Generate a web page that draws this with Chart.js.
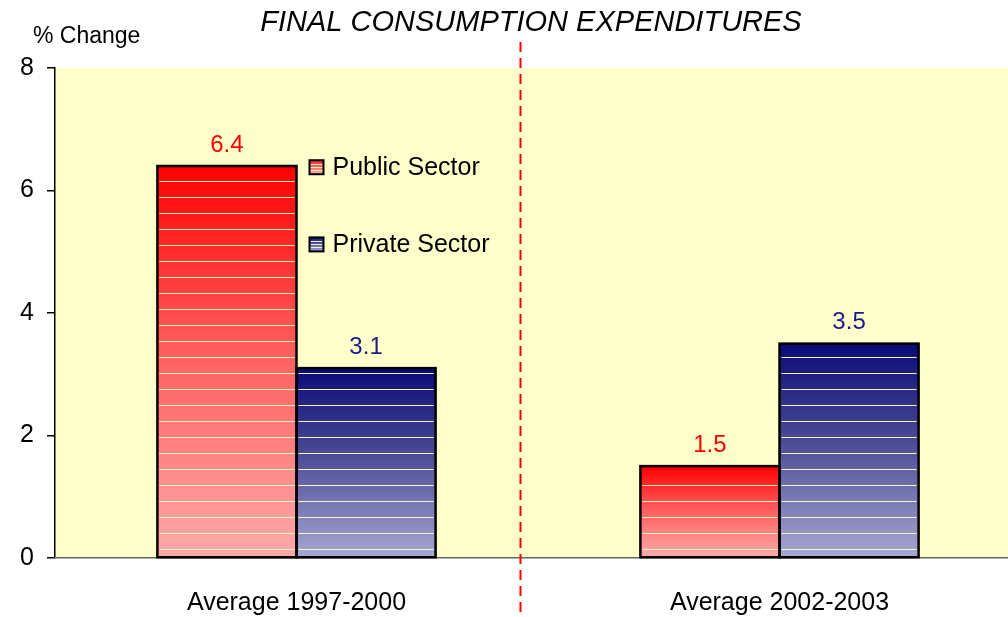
<!DOCTYPE html>
<html>
<head>
<meta charset="utf-8">
<script src="https://cdn.jsdelivr.net/npm/chart.js@4/dist/chart.umd.min.js"></script>
<style>
  html, body { margin: 0; padding: 0; background: #fff; overflow: hidden; }
  #wrap { position: relative; width: 1030px; height: 617px; }
</style>
</head>
<body>
<div id="wrap"><canvas id="expChart"></canvas></div>
<script>
const categories = ['Average 1997-2000', 'Average 2002-2003'];
const publicSector = [6.4, 1.5];
const privateSector = [3.1, 3.5];
const yTicks = [0, 2, 4, 6, 8];

const FONT = "'Liberation Sans', Arial, sans-serif";

function barGradient(ctx, top, mid, bottom) {
  return function (context) {
    const chart = context.chart;
    const area = chart.chartArea;
    if (!area || context.type !== 'data') return top;
    const yScale = chart.scales.y;
    const y0 = yScale.getPixelForValue(context.raw);
    const y1 = yScale.getPixelForValue(0);
    const g = chart.ctx.createLinearGradient(0, y0, 0, y1);
    g.addColorStop(0, top);
    g.addColorStop(0.45, mid);
    g.addColorStop(1, bottom);
    return g;
  };
}

const plotBg = {
  id: 'plotBg',
  beforeDraw(chart) {
    const { ctx, chartArea: a } = chart;
    ctx.save();
    ctx.fillStyle = '#ffffcc';
    ctx.fillRect(a.left, a.top, a.right - a.left, a.bottom - a.top);
    ctx.restore();
  }
};

const extras = {
  id: 'extras',
  afterDatasetsDraw(chart) {
    const { ctx } = chart;
    ctx.save();
    // pale stripes across the bars
    chart.data.datasets.forEach((ds, i) => {
      chart.getDatasetMeta(i).data.forEach(bar => {
        const left = bar.x - bar.width / 2 + 2;
        const right = bar.x + bar.width / 2 - 2;
        ctx.strokeStyle = 'rgba(255,255,200,0.95)';
        ctx.lineWidth = 1.2;
        for (let y = bar.base - 8; y > bar.y + 4; y -= 16) {
          ctx.beginPath();
          ctx.moveTo(left, Math.round(y) + 0.5);
          ctx.lineTo(right, Math.round(y) + 0.5);
          ctx.stroke();
        }
        ctx.strokeStyle = '#000';
        ctx.lineWidth = 2.5;
        ctx.strokeRect(bar.x - bar.width / 2, bar.y, bar.width, bar.base - bar.y);
      });
    });
    // value labels
    ctx.font = '24px ' + FONT;
    ctx.textAlign = 'center';
    ctx.textBaseline = 'bottom';
    chart.data.datasets.forEach((ds, i) => {
      ctx.fillStyle = ds.labelColor;
      chart.getDatasetMeta(i).data.forEach((bar, j) => {
        ctx.fillText(ds.data[j].toFixed(1), bar.x, bar.y - 9);
      });
    });
    // legend inside plot
    const xs = chart.scales.x;
    const ys = chart.scales.y;
    const lx = xs.getPixelForValue(0) + 13;
    const legendY = [ys.getPixelForValue(6.38), ys.getPixelForValue(5.12)];
    ctx.font = '25px ' + FONT;
    chart.data.datasets.forEach((ds, i) => {
      const cy = legendY[i];
      const g = ctx.createLinearGradient(0, cy - 7, 0, cy + 7);
      g.addColorStop(0, ds.gradTop);
      g.addColorStop(1, ds.gradBottom);
      ctx.fillStyle = g;
      ctx.fillRect(lx, cy - 7, 14, 14);
      ctx.strokeStyle = 'rgba(255,255,200,0.9)';
      ctx.lineWidth = 1;
      for (let k = -3; k <= 5; k += 3) {
        ctx.beginPath();
        ctx.moveTo(lx + 1, Math.round(cy + k) + 0.5);
        ctx.lineTo(lx + 13, Math.round(cy + k) + 0.5);
        ctx.stroke();
      }
      ctx.strokeStyle = '#000';
      ctx.lineWidth = 2;
      ctx.strokeRect(lx, cy - 7, 14, 14);
      ctx.fillStyle = '#000';
      ctx.textAlign = 'left';
      ctx.textBaseline = 'middle';
      ctx.fillText(ds.label, lx + 23, cy + 1);
    });
    ctx.restore();
  },
  afterDraw(chart) {
    const { ctx } = chart;
    const xs = chart.scales.x;
    const p0 = xs.getPixelForValue(0);
    const p1 = xs.getPixelForValue(1);
    const dx = p0 + (p1 - p0) * 0.463;
    ctx.save();
    // dashed divider
    ctx.strokeStyle = '#ff0000';
    ctx.lineWidth = 2;
    ctx.setLineDash([10, 6]);
    ctx.beginPath();
    ctx.moveTo(Math.round(dx) + 0.5, 42);
    ctx.lineTo(Math.round(dx) + 0.5, chart.height);
    ctx.stroke();
    ctx.setLineDash([]);
    // title and unit
    ctx.fillStyle = '#000';
    ctx.textBaseline = 'middle';
    ctx.textAlign = 'center';
    ctx.font = 'italic 29px ' + FONT;
    ctx.fillText('FINAL CONSUMPTION EXPENDITURES', 531, 23);
    ctx.textAlign = 'left';
    ctx.font = '23px ' + FONT;
    ctx.fillText('% Change', 33, 37);
    ctx.restore();
  }
};

const ctx = document.getElementById('expChart').getContext('2d');
const chart = new Chart(ctx, {
  type: 'bar',
  data: {
    labels: categories,
    datasets: [
      {
        label: 'Public Sector',
        data: publicSector,
        backgroundColor: barGradient(ctx, '#ff0000', '#ff5a5a', '#ffaaaa'),
        gradTop: '#ff2020',
        gradBottom: '#ffb0b0',
        labelColor: '#ff0000',
        borderWidth: 0
      },
      {
        label: 'Private Sector',
        data: privateSector,
        backgroundColor: barGradient(ctx, '#0a0a78', '#4a4a94', '#a8a8d4'),
        gradTop: '#10107a',
        gradBottom: '#aaaad6',
        labelColor: '#1a1a8c',
        borderWidth: 0
      }
    ]
  },
  options: {
    responsive: true,
    maintainAspectRatio: false,
    animation: false,
    layout: { padding: { top: 68, right: 9, left: 0, bottom: 0 } },
    datasets: {
      bar: { categoryPercentage: 0.576, barPercentage: 1.0 }
    },
    plugins: {
      legend: { display: false },
      title: { display: false },
      tooltip: { enabled: false }
    },
    scales: {
      y: {
        min: 0,
        max: 8,
        afterBuildTicks(scale) { scale.ticks = yTicks.map(v => ({ value: v })); },
        afterFit(scale) { scale.width = 55; },
        ticks: {
          color: '#000',
          font: { size: 25, family: FONT },
          padding: 13
        },
        grid: {
          display: true,
          drawOnChartArea: false,
          drawTicks: true,
          tickLength: 8,
          color: '#000',
          lineWidth: 1.5
        },
        border: { display: true, color: '#000', width: 1.5 }
      },
      x: {
        afterFit(scale) { scale.height = 59; },
        ticks: {
          color: '#000',
          font: { size: 25, family: FONT },
          padding: 22
        },
        grid: { display: false },
        border: { display: true, color: '#666', width: 1.5 }
      }
    }
  },
  plugins: [plotBg, extras]
});
</script>
</body>
</html>
